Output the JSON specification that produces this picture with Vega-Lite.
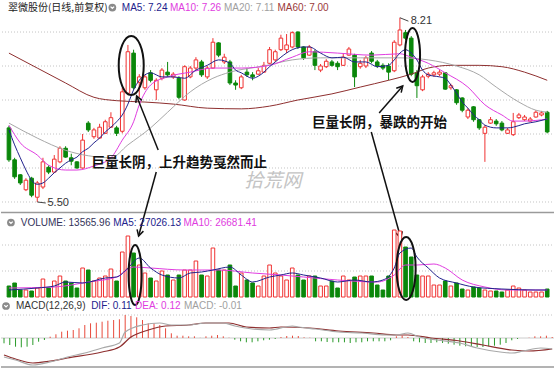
{
"$schema":"https://vega.github.io/schema/vega-lite/v6.json",
"padding":0,"spacing":0,"bounds":"flush","background":"white",
"config":{"view":{"stroke":null},"axis":{"disable":true},"legend":{"disable":true}},
"datasets":{
"k":[
{"i":0,"o":6.59,"h":6.62,"l":6.09,"c":6.12,"v":18700,"m":-0.053},
{"i":1,"o":6.12,"h":6.15,"l":5.84,"c":5.87,"v":23800,"m":-0.07},
{"i":2,"o":5.90,"h":5.91,"l":5.75,"c":5.78,"v":11900,"m":-0.087},
{"i":3,"o":5.68,"h":5.85,"l":5.66,"c":5.82,"v":11900,"m":-0.093},
{"i":4,"o":5.85,"h":5.87,"l":5.57,"c":5.60,"v":10200,"m":-0.087},
{"i":5,"o":5.57,"h":5.81,"l":5.50,"c":5.78,"v":15300,"m":-0.07},
{"i":6,"o":5.72,"h":6.15,"l":5.69,"c":6.09,"v":30600,"m":-0.037},
{"i":7,"o":6.01,"h":6.04,"l":5.91,"c":5.94,"v":15300,"m":-0.02},
{"i":8,"o":5.94,"h":6.19,"l":5.93,"c":6.13,"v":27200,"m":0.013},
{"i":9,"o":6.09,"h":6.32,"l":6.07,"c":6.29,"v":35700,"m":0.037},
{"i":10,"o":6.29,"h":6.32,"l":6.15,"c":6.16,"v":27200,"m":0.063},
{"i":11,"o":6.15,"h":6.21,"l":6.04,"c":6.10,"v":23800,"m":0.073},
{"i":12,"o":6.09,"h":6.10,"l":5.99,"c":6.00,"v":15300,"m":0.08},
{"i":13,"o":6.00,"h":6.50,"l":5.99,"c":6.41,"v":49300,"m":0.097},
{"i":14,"o":6.66,"h":6.69,"l":6.53,"c":6.56,"v":45900,"m":0.13},
{"i":15,"o":6.46,"h":6.59,"l":6.43,"c":6.56,"v":27200,"m":0.147},
{"i":16,"o":6.44,"h":6.65,"l":6.43,"c":6.60,"v":32300,"m":0.153},
{"i":17,"o":6.51,"h":6.71,"l":6.50,"c":6.68,"v":35700,"m":0.163},
{"i":18,"o":6.60,"h":6.82,"l":6.59,"c":6.74,"v":47600,"m":0.173},
{"i":19,"o":6.59,"h":6.62,"l":6.47,"c":6.51,"v":27200,"m":0.18},
{"i":20,"o":6.54,"h":7.18,"l":6.51,"c":7.12,"v":76500,"m":0.187},
{"i":21,"o":7.10,"h":7.81,"l":7.07,"c":7.71,"v":103700,"m":0.23},
{"i":22,"o":7.69,"h":7.74,"l":7.15,"c":7.18,"v":74800,"m":0.22},
{"i":23,"o":7.26,"h":7.38,"l":7.04,"c":7.34,"v":54400,"m":0.207},
{"i":24,"o":7.18,"h":7.37,"l":7.15,"c":7.34,"v":40800,"m":0.18},
{"i":25,"o":7.40,"h":7.44,"l":7.26,"c":7.29,"v":32300,"m":0.147},
{"i":26,"o":7.15,"h":7.32,"l":7.00,"c":7.29,"v":27200,"m":0.147},
{"i":27,"o":7.32,"h":7.47,"l":7.29,"c":7.44,"v":44200,"m":0.13},
{"i":28,"o":7.41,"h":7.56,"l":7.34,"c":7.37,"v":37400,"m":0.097},
{"i":29,"o":7.34,"h":7.41,"l":7.31,"c":7.38,"v":28900,"m":0.047},
{"i":30,"o":7.32,"h":7.35,"l":7.01,"c":7.04,"v":37400,"m":0.023},
{"i":31,"o":7.00,"h":7.51,"l":6.99,"c":7.49,"v":45900,"m":0.023},
{"i":32,"o":7.34,"h":7.50,"l":7.32,"c":7.47,"v":45900,"m":0.017},
{"i":33,"o":7.47,"h":7.63,"l":7.44,"c":7.59,"v":61200,"m":0.017},
{"i":34,"o":7.56,"h":7.59,"l":7.34,"c":7.37,"v":37400,"m":0.002},
{"i":35,"o":7.34,"h":7.50,"l":7.31,"c":7.47,"v":35700,"m":0.017},
{"i":36,"o":7.47,"h":7.91,"l":7.46,"c":7.85,"v":83300,"m":0.023},
{"i":37,"o":7.84,"h":7.85,"l":7.63,"c":7.66,"v":45900,"m":0.03},
{"i":38,"o":7.56,"h":7.68,"l":7.53,"c":7.63,"v":45900,"m":0.017},
{"i":39,"o":7.56,"h":7.59,"l":7.22,"c":7.25,"v":54400,"m":0.003},
{"i":40,"o":7.25,"h":7.29,"l":7.15,"c":7.22,"v":18700,"m":-0.017},
{"i":41,"o":7.18,"h":7.37,"l":7.16,"c":7.34,"v":40800,"m":-0.033},
{"i":42,"o":7.41,"h":7.47,"l":7.34,"c":7.37,"v":28900,"m":-0.043},
{"i":43,"o":7.37,"h":7.41,"l":7.29,"c":7.34,"v":23800,"m":-0.043},
{"i":44,"o":7.38,"h":7.47,"l":7.37,"c":7.43,"v":18700,"m":-0.033},
{"i":45,"o":7.41,"h":7.56,"l":7.40,"c":7.51,"v":35700,"m":-0.023},
{"i":46,"o":7.54,"h":7.78,"l":7.53,"c":7.74,"v":54400,"m":-0.017},
{"i":47,"o":7.59,"h":7.74,"l":7.56,"c":7.71,"v":40800,"m":-0.01},
{"i":48,"o":7.74,"h":7.96,"l":7.72,"c":7.91,"v":35700,"m":0.01},
{"i":49,"o":7.74,"h":7.97,"l":7.69,"c":7.81,"v":28900,"m":0.02},
{"i":50,"o":7.78,"h":8.01,"l":7.76,"c":7.99,"v":49300,"m":0.023},
{"i":51,"o":8.00,"h":8.01,"l":7.75,"c":7.78,"v":37400,"m":0.02},
{"i":52,"o":7.78,"h":7.79,"l":7.59,"c":7.62,"v":28900,"m":0.007},
{"i":53,"o":7.66,"h":7.81,"l":7.65,"c":7.78,"v":35700,"m":0.003},
{"i":54,"o":7.71,"h":7.74,"l":7.44,"c":7.51,"v":35700,"m":-0.033},
{"i":55,"o":7.44,"h":7.53,"l":7.41,"c":7.50,"v":18700,"m":-0.033},
{"i":56,"o":7.49,"h":7.60,"l":7.47,"c":7.57,"v":18700,"m":-0.04},
{"i":57,"o":7.56,"h":7.59,"l":7.49,"c":7.51,"v":27200,"m":-0.043},
{"i":58,"o":7.54,"h":7.57,"l":7.44,"c":7.49,"v":15300,"m":-0.043},
{"i":59,"o":7.51,"h":7.68,"l":7.50,"c":7.63,"v":35700,"m":-0.043},
{"i":60,"o":7.66,"h":7.78,"l":7.65,"c":7.75,"v":28900,"m":-0.05},
{"i":61,"o":7.66,"h":7.68,"l":7.19,"c":7.34,"v":34000,"m":-0.043},
{"i":62,"o":7.49,"h":7.59,"l":7.46,"c":7.54,"v":35700,"m":-0.043},
{"i":63,"o":7.50,"h":7.65,"l":7.47,"c":7.62,"v":35700,"m":-0.033},
{"i":64,"o":7.69,"h":7.72,"l":7.54,"c":7.57,"v":35700,"m":-0.033},
{"i":65,"o":7.56,"h":7.59,"l":7.47,"c":7.50,"v":20400,"m":-0.033},
{"i":66,"o":7.51,"h":7.54,"l":7.44,"c":7.47,"v":11900,"m":-0.033},
{"i":67,"o":7.50,"h":7.54,"l":7.29,"c":7.41,"v":35700,"m":-0.023},
{"i":68,"o":7.43,"h":7.88,"l":7.41,"c":7.85,"v":113900,"m":0.017},
{"i":69,"o":7.81,"h":8.21,"l":7.79,"c":8.03,"v":112200,"m":0.023},
{"i":70,"o":7.99,"h":8.03,"l":7.88,"c":7.91,"v":85000,"m":0.01},
{"i":71,"o":7.91,"h":7.94,"l":7.35,"c":7.38,"v":68000,"m":-0.033},
{"i":72,"o":7.40,"h":7.44,"l":7.03,"c":7.21,"v":37400,"m":-0.043},
{"i":73,"o":7.15,"h":7.37,"l":7.13,"c":7.34,"v":35700,"m":-0.05},
{"i":74,"o":7.35,"h":7.41,"l":7.32,"c":7.38,"v":35700,"m":-0.05},
{"i":75,"o":7.37,"h":7.43,"l":7.34,"c":7.40,"v":20400,"m":-0.043},
{"i":76,"o":7.38,"h":7.44,"l":7.35,"c":7.41,"v":20400,"m":-0.05},
{"i":77,"o":7.40,"h":7.41,"l":7.15,"c":7.16,"v":27200,"m":-0.057},
{"i":78,"o":7.18,"h":7.24,"l":7.15,"c":7.21,"v":18700,"m":-0.067},
{"i":79,"o":7.15,"h":7.16,"l":6.93,"c":6.96,"v":23800,"m":-0.077},
{"i":80,"o":7.03,"h":7.04,"l":6.82,"c":6.85,"v":13600,"m":-0.083},
{"i":81,"o":6.75,"h":6.88,"l":6.72,"c":6.85,"v":11900,"m":-0.09},
{"i":82,"o":6.90,"h":6.91,"l":6.68,"c":6.71,"v":17000,"m":-0.09},
{"i":83,"o":6.71,"h":6.72,"l":6.56,"c":6.59,"v":15300,"m":-0.09},
{"i":84,"o":6.51,"h":6.63,"l":6.09,"c":6.60,"v":11900,"m":-0.083},
{"i":85,"o":6.66,"h":6.75,"l":6.65,"c":6.71,"v":10200,"m":-0.077},
{"i":86,"o":6.69,"h":6.72,"l":6.62,"c":6.65,"v":10200,"m":-0.067},
{"i":87,"o":6.66,"h":6.69,"l":6.54,"c":6.56,"v":8500,"m":-0.05},
{"i":88,"o":6.51,"h":6.59,"l":6.50,"c":6.56,"v":11900,"m":-0.023},
{"i":89,"o":6.49,"h":6.81,"l":6.47,"c":6.68,"v":18700,"m":-0.01},
{"i":90,"o":6.74,"h":6.81,"l":6.72,"c":6.78,"v":15300,"m":0.0},
{"i":91,"o":6.71,"h":6.78,"l":6.69,"c":6.75,"v":11900,"m":0.003},
{"i":92,"o":6.69,"h":6.75,"l":6.68,"c":6.72,"v":8500,"m":0.017},
{"i":93,"o":6.75,"h":6.85,"l":6.74,"c":6.82,"v":8500,"m":0.017},
{"i":94,"o":6.78,"h":6.84,"l":6.76,"c":6.81,"v":8500,"m":0.023},
{"i":95,"o":6.82,"h":6.84,"l":6.51,"c":6.53,"v":13566,"m":0.01}
],
"ma":[
{"s":"MA60","i":0,"v":7.69},{"s":"MA60","i":5,"v":7.47},{"s":"MA60","i":10,"v":7.25},{"s":"MA60","i":15,"v":7.04},{"s":"MA60","i":19,"v":6.99},{"s":"MA60","i":24,"v":6.97},{"s":"MA60","i":29,"v":6.94},{"s":"MA60","i":35,"v":6.88},{"s":"MA60","i":41,"v":6.87},{"s":"MA60","i":46,"v":6.91},{"s":"MA60","i":51,"v":7.00},{"s":"MA60","i":57,"v":7.09},{"s":"MA60","i":62,"v":7.19},{"s":"MA60","i":67,"v":7.29},{"s":"MA60","i":71,"v":7.38},{"s":"MA60","i":74,"v":7.47},{"s":"MA60","i":78,"v":7.51},{"s":"MA60","i":83,"v":7.51},{"s":"MA60","i":87,"v":7.49},{"s":"MA60","i":91,"v":7.41},{"s":"MA60","i":95,"v":7.29},
{"s":"MA20","i":0,"v":6.66},{"s":"MA20","i":5,"v":6.44},{"s":"MA20","i":10,"v":6.26},{"s":"MA20","i":14,"v":6.18},{"s":"MA20","i":18,"v":6.15},{"s":"MA20","i":21,"v":6.34},{"s":"MA20","i":25,"v":6.59},{"s":"MA20","i":28,"v":6.82},{"s":"MA20","i":32,"v":7.12},{"s":"MA20","i":36,"v":7.32},{"s":"MA20","i":39,"v":7.41},{"s":"MA20","i":45,"v":7.50},{"s":"MA20","i":50,"v":7.59},{"s":"MA20","i":55,"v":7.62},{"s":"MA20","i":62,"v":7.62},{"s":"MA20","i":69,"v":7.62},{"s":"MA20","i":74,"v":7.59},{"s":"MA20","i":79,"v":7.50},{"s":"MA20","i":83,"v":7.37},{"s":"MA20","i":86,"v":7.19},{"s":"MA20","i":90,"v":6.97},{"s":"MA20","i":93,"v":6.85},{"s":"MA20","i":95,"v":6.82},
{"s":"MA10","i":0,"v":6.63},{"s":"MA10","i":2,"v":6.37},{"s":"MA10","i":5,"v":6.19},{"s":"MA10","i":7,"v":6.04},{"s":"MA10","i":10,"v":5.97},{"s":"MA10","i":12,"v":5.97},{"s":"MA10","i":15,"v":6.03},{"s":"MA10","i":18,"v":6.15},{"s":"MA10","i":20,"v":6.41},{"s":"MA10","i":22,"v":6.68},{"s":"MA10","i":23,"v":6.93},{"s":"MA10","i":25,"v":7.22},{"s":"MA10","i":28,"v":7.34},{"s":"MA10","i":32,"v":7.41},{"s":"MA10","i":36,"v":7.47},{"s":"MA10","i":41,"v":7.47},{"s":"MA10","i":46,"v":7.51},{"s":"MA10","i":50,"v":7.63},{"s":"MA10","i":53,"v":7.71},{"s":"MA10","i":58,"v":7.69},{"s":"MA10","i":64,"v":7.66},{"s":"MA10","i":69,"v":7.68},{"s":"MA10","i":71,"v":7.63},{"s":"MA10","i":74,"v":7.54},{"s":"MA10","i":77,"v":7.40},{"s":"MA10","i":81,"v":7.19},{"s":"MA10","i":84,"v":6.93},{"s":"MA10","i":87,"v":6.78},{"s":"MA10","i":89,"v":6.69},{"s":"MA10","i":91,"v":6.69},{"s":"MA10","i":95,"v":6.72},
{"s":"MA5","i":0,"v":6.56},{"s":"MA5","i":1,"v":6.34},{"s":"MA5","i":2,"v":6.15},{"s":"MA5","i":3,"v":5.97},{"s":"MA5","i":4,"v":5.82},{"s":"MA5","i":5,"v":5.76},{"s":"MA5","i":6,"v":5.78},{"s":"MA5","i":7,"v":5.85},{"s":"MA5","i":8,"v":5.93},{"s":"MA5","i":9,"v":6.00},{"s":"MA5","i":10,"v":6.07},{"s":"MA5","i":11,"v":6.12},{"s":"MA5","i":12,"v":6.16},{"s":"MA5","i":13,"v":6.24},{"s":"MA5","i":14,"v":6.29},{"s":"MA5","i":15,"v":6.37},{"s":"MA5","i":16,"v":6.44},{"s":"MA5","i":17,"v":6.53},{"s":"MA5","i":18,"v":6.60},{"s":"MA5","i":19,"v":6.68},{"s":"MA5","i":20,"v":6.78},{"s":"MA5","i":21,"v":6.94},{"s":"MA5","i":22,"v":7.15},{"s":"MA5","i":23,"v":7.29},{"s":"MA5","i":24,"v":7.37},{"s":"MA5","i":25,"v":7.40},{"s":"MA5","i":27,"v":7.34},{"s":"MA5","i":29,"v":7.34},{"s":"MA5","i":31,"v":7.32},{"s":"MA5","i":33,"v":7.44},{"s":"MA5","i":35,"v":7.51},{"s":"MA5","i":37,"v":7.59},{"s":"MA5","i":39,"v":7.54},{"s":"MA5","i":40,"v":7.44},{"s":"MA5","i":41,"v":7.40},{"s":"MA5","i":43,"v":7.32},{"s":"MA5","i":44,"v":7.35},{"s":"MA5","i":45,"v":7.41},{"s":"MA5","i":46,"v":7.49},{"s":"MA5","i":47,"v":7.56},{"s":"MA5","i":48,"v":7.63},{"s":"MA5","i":50,"v":7.74},{"s":"MA5","i":52,"v":7.78},{"s":"MA5","i":53,"v":7.78},{"s":"MA5","i":55,"v":7.69},{"s":"MA5","i":57,"v":7.62},{"s":"MA5","i":59,"v":7.63},{"s":"MA5","i":61,"v":7.56},{"s":"MA5","i":63,"v":7.56},{"s":"MA5","i":65,"v":7.49},{"s":"MA5","i":67,"v":7.51},{"s":"MA5","i":68,"v":7.59},{"s":"MA5","i":69,"v":7.69},{"s":"MA5","i":70,"v":7.74},{"s":"MA5","i":71,"v":7.69},{"s":"MA5","i":72,"v":7.59},{"s":"MA5","i":73,"v":7.44},{"s":"MA5","i":74,"v":7.37},{"s":"MA5","i":76,"v":7.34},{"s":"MA5","i":77,"v":7.32},{"s":"MA5","i":78,"v":7.22},{"s":"MA5","i":79,"v":7.10},{"s":"MA5","i":80,"v":6.97},{"s":"MA5","i":81,"v":6.88},{"s":"MA5","i":82,"v":6.78},{"s":"MA5","i":83,"v":6.71},{"s":"MA5","i":84,"v":6.63},{"s":"MA5","i":86,"v":6.59},{"s":"MA5","i":88,"v":6.59},{"s":"MA5","i":89,"v":6.60},{"s":"MA5","i":91,"v":6.65},{"s":"MA5","i":93,"v":6.68},{"s":"MA5","i":95,"v":6.72}
],
"vma":[
{"s":"MA10","i":0,"v":15300},{"s":"MA10","i":8,"v":17000},{"s":"MA10","i":14,"v":25500},{"s":"MA10","i":19,"v":34000},{"s":"MA10","i":22,"v":51000},{"s":"MA10","i":25,"v":49300},{"s":"MA10","i":31,"v":45900},{"s":"MA10","i":37,"v":45900},{"s":"MA10","i":43,"v":40800},{"s":"MA10","i":48,"v":37400},{"s":"MA10","i":52,"v":34000},{"s":"MA10","i":58,"v":28900},{"s":"MA10","i":65,"v":25500},{"s":"MA10","i":68,"v":37400},{"s":"MA10","i":70,"v":54400},{"s":"MA10","i":72,"v":54400},{"s":"MA10","i":75,"v":56100},{"s":"MA10","i":77,"v":49300},{"s":"MA10","i":80,"v":28900},{"s":"MA10","i":84,"v":17000},{"s":"MA10","i":88,"v":11900},{"s":"MA10","i":95,"v":11900},
{"s":"MA5","i":0,"v":11900},{"s":"MA5","i":5,"v":15300},{"s":"MA5","i":8,"v":18700},{"s":"MA5","i":10,"v":25500},{"s":"MA5","i":13,"v":23800},{"s":"MA5","i":17,"v":32300},{"s":"MA5","i":19,"v":34000},{"s":"MA5","i":21,"v":49300},{"s":"MA5","i":23,"v":66300},{"s":"MA5","i":25,"v":49300},{"s":"MA5","i":27,"v":37400},{"s":"MA5","i":30,"v":32300},{"s":"MA5","i":32,"v":40800},{"s":"MA5","i":34,"v":42500},{"s":"MA5","i":36,"v":45900},{"s":"MA5","i":39,"v":51000},{"s":"MA5","i":41,"v":37400},{"s":"MA5","i":43,"v":25500},{"s":"MA5","i":46,"v":34000},{"s":"MA5","i":48,"v":37400},{"s":"MA5","i":50,"v":40800},{"s":"MA5","i":52,"v":37400},{"s":"MA5","i":55,"v":32300},{"s":"MA5","i":58,"v":25500},{"s":"MA5","i":61,"v":28900},{"s":"MA5","i":64,"v":25500},{"s":"MA5","i":66,"v":28900},{"s":"MA5","i":68,"v":49300},{"s":"MA5","i":69,"v":74800},{"s":"MA5","i":71,"v":83300},{"s":"MA5","i":72,"v":68000},{"s":"MA5","i":74,"v":49300},{"s":"MA5","i":76,"v":32300},{"s":"MA5","i":79,"v":23800},{"s":"MA5","i":82,"v":17000},{"s":"MA5","i":87,"v":13600},{"s":"MA5","i":93,"v":11900},{"s":"MA5","i":95,"v":11900}
],
"dd":[
{"s":"DEA","i":0,"v":-0.17},{"s":"DEA","i":2,"v":-0.21},{"s":"DEA","i":5,"v":-0.25},{"s":"DEA","i":8,"v":-0.23},{"s":"DEA","i":11,"v":-0.20},{"s":"DEA","i":17,"v":-0.14},{"s":"DEA","i":20,"v":-0.09},{"s":"DEA","i":22,"v":0.01},{"s":"DEA","i":25,"v":0.08},{"s":"DEA","i":28,"v":0.12},{"s":"DEA","i":32,"v":0.13},{"s":"DEA","i":35,"v":0.15},{"s":"DEA","i":39,"v":0.15},{"s":"DEA","i":42,"v":0.11},{"s":"DEA","i":46,"v":0.10},{"s":"DEA","i":48,"v":0.11},{"s":"DEA","i":53,"v":0.10},{"s":"DEA","i":58,"v":0.07},{"s":"DEA","i":64,"v":0.05},{"s":"DEA","i":68,"v":0.03},{"s":"DEA","i":70,"v":0.03},{"s":"DEA","i":74,"v":0.00},{"s":"DEA","i":79,"v":-0.03},{"s":"DEA","i":83,"v":-0.07},{"s":"DEA","i":88,"v":-0.12},{"s":"DEA","i":91,"v":-0.13},{"s":"DEA","i":95,"v":-0.11},
{"s":"DIF","i":0,"v":-0.19},{"s":"DIF","i":2,"v":-0.22},{"s":"DIF","i":5,"v":-0.27},{"s":"DIF","i":8,"v":-0.24},{"s":"DIF","i":11,"v":-0.19},{"s":"DIF","i":14,"v":-0.15},{"s":"DIF","i":17,"v":-0.10},{"s":"DIF","i":20,"v":-0.05},{"s":"DIF","i":21,"v":0.06},{"s":"DIF","i":24,"v":0.13},{"s":"DIF","i":27,"v":0.15},{"s":"DIF","i":29,"v":0.13},{"s":"DIF","i":32,"v":0.13},{"s":"DIF","i":35,"v":0.15},{"s":"DIF","i":38,"v":0.15},{"s":"DIF","i":40,"v":0.12},{"s":"DIF","i":43,"v":0.09},{"s":"DIF","i":46,"v":0.08},{"s":"DIF","i":50,"v":0.12},{"s":"DIF","i":51,"v":0.11},{"s":"DIF","i":54,"v":0.09},{"s":"DIF","i":58,"v":0.06},{"s":"DIF","i":62,"v":0.05},{"s":"DIF","i":66,"v":0.03},{"s":"DIF","i":68,"v":0.03},{"s":"DIF","i":70,"v":0.05},{"s":"DIF","i":72,"v":0.01},{"s":"DIF","i":75,"v":-0.02},{"s":"DIF","i":79,"v":-0.05},{"s":"DIF","i":82,"v":-0.10},{"s":"DIF","i":86,"v":-0.14},{"s":"DIF","i":88,"v":-0.15},{"s":"DIF","i":90,"v":-0.13},{"s":"DIF","i":93,"v":-0.10},{"s":"DIF","i":95,"v":-0.11}
]
},
"vconcat":[
{
"width":554,"height":213,
"layer":[
{"data":{"values":[{"g":5.5},{"g":6.0},{"g":6.5},{"g":7.0},{"g":7.5},{"g":8.0}]},
 "mark":{"type":"rule","color":"#c4c4c4","strokeDash":[1,2],"strokeWidth":1},
 "encoding":{"y":{"field":"g","type":"quantitative","scale":{"domain":[5.338,8.471],"nice":false,"zero":false}}}},
{"data":{"values":[{}]},
 "mark":{"type":"text","text":"拾荒网","font":"Noto Sans CJK SC","fontSize":19,"fontStyle":"italic","color":"#c4c4c4","align":"center","baseline":"middle"},
 "encoding":{"x":{"datum":46.6,"scale":{"domain":[-0.52,95.49],"nice":false,"zero":false}},"y":{"datum":5.81}}},
{"data":{"values":[{}]},
 "mark":{"type":"rule","color":"#9a9a9a","strokeWidth":1.5},
 "encoding":{"y":{"datum":5.345}}},
{"data":{"name":"k"},
 "mark":{"type":"rule","strokeWidth":1},
 "encoding":{"x":{"field":"i","type":"quantitative"},"y":{"field":"l","type":"quantitative"},"y2":{"field":"h"},
  "color":{"condition":{"test":"datum.c >= datum.o","value":"#f03232"},"value":"#0a870a"}}},
{"data":{"name":"k"},
 "mark":{"type":"bar","width":3.6,"strokeWidth":1},
 "encoding":{"x":{"field":"i","type":"quantitative"},"y":{"field":"o","type":"quantitative"},"y2":{"field":"c"},
  "fill":{"condition":{"test":"datum.c >= datum.o","value":"#ffffff"},"value":"#0a870a"},
  "stroke":{"condition":{"test":"datum.c >= datum.o","value":"#f03232"},"value":"#0a870a"}}},
{"data":{"name":"ma"},
 "mark":{"type":"line","strokeWidth":1,"interpolate":"monotone"},
 "encoding":{"x":{"field":"i","type":"quantitative"},"y":{"field":"v","type":"quantitative"},"detail":{"field":"s"},
  "color":{"field":"s","type":"nominal","scale":{"domain":["MA60","MA20","MA10","MA5"],"range":["#8e2f2f","#a8a8a8","#e03ce0","#22228c"]}}}},
{"data":{"values":[{}]},"mark":{"type":"rule","color":"#444","strokeWidth":1},
 "encoding":{"x":{"datum":69},"y":{"datum":8.21},"x2":{"datum":70.5},"y2":{"datum":8.16}}},
{"data":{"values":[{}]},"mark":{"type":"text","text":"8.21","font":"Liberation Sans","fontSize":11,"color":"#333","align":"left","baseline":"middle"},
 "encoding":{"x":{"datum":70.9},"y":{"datum":8.16}}},
{"data":{"values":[{}]},"mark":{"type":"rule","color":"#444","strokeWidth":1},
 "encoding":{"x":{"datum":5},"y":{"datum":5.50},"x2":{"datum":6.5},"y2":{"datum":5.485}}},
{"data":{"values":[{}]},"mark":{"type":"text","text":"5.50","font":"Liberation Sans","fontSize":11,"color":"#333","align":"left","baseline":"middle"},
 "encoding":{"x":{"datum":6.8},"y":{"datum":5.485}}},
{"data":{"values":[{}]},"mark":{"type":"text","text":"翠微股份(日线,前复权)","font":"Noto Sans CJK SC","fontSize":10,"color":"#222","align":"left","baseline":"middle"},
 "encoding":{"x":{"datum":-0.17},"y":{"datum":8.35}}},
{"data":{"values":[{}]},"mark":{"type":"point","shape":"circle","filled":true,"size":60,"color":"#8a8a8a","opacity":1},
 "encoding":{"x":{"datum":18.25},"y":{"datum":8.36}}},
{"data":{"values":[{}]},"mark":{"type":"point","shape":"M-0.5,-0.25L0,0.25L0.5,-0.25","filled":false,"size":50,"stroke":"white","strokeWidth":1.3,"opacity":1},
 "encoding":{"x":{"datum":18.25},"y":{"datum":8.36}}},
{"data":{"values":[{}]},"mark":{"type":"text","text":"MA5: 7.24","font":"Liberation Sans","fontSize":10,"color":"#22228c","align":"left","baseline":"middle"},
 "encoding":{"x":{"datum":19.93},"y":{"datum":8.35}}},
{"data":{"values":[{}]},"mark":{"type":"text","text":"MA10: 7.26","font":"Liberation Sans","fontSize":10,"color":"#e03ce0","align":"left","baseline":"middle"},
 "encoding":{"x":{"datum":28.42},"y":{"datum":8.35}}},
{"data":{"values":[{}]},"mark":{"type":"text","text":"MA20: 7.11","font":"Liberation Sans","fontSize":10,"color":"#a0a0a0","align":"left","baseline":"middle"},
 "encoding":{"x":{"datum":37.95},"y":{"datum":8.35}}},
{"data":{"values":[{}]},"mark":{"type":"text","text":"MA60: 7.00","font":"Liberation Sans","fontSize":10,"color":"#9b3a3a","align":"left","baseline":"middle"},
 "encoding":{"x":{"datum":47.4},"y":{"datum":8.35}}},
{"data":{"values":[{}]},"mark":{"type":"point","shape":"M0,-1A0.424,1 0 1,1 0,1A0.424,1 0 1,1 0,-1Z","size":3481,"filled":false,"stroke":"#111","strokeWidth":2,"opacity":1},
 "encoding":{"x":{"datum":21.58},"y":{"datum":7.507}}},
{"data":{"values":[{}]},"mark":{"type":"point","shape":"M0,-1A0.278,1 0 1,1 0,1A0.278,1 0 1,1 0,-1Z","size":2916,"filled":false,"stroke":"#111","strokeWidth":2,"opacity":1},
 "encoding":{"x":{"datum":71.23},"y":{"datum":7.662}}},
{"data":{"values":[{}]},"mark":{"type":"rule","color":"#111","strokeWidth":1.5},
 "encoding":{"x":{"datum":26.34},"y":{"datum":6.265},"x2":{"datum":22.53},"y2":{"datum":7.059}}},
{"data":{"values":[{}]},"mark":{"type":"point","shape":"M-0.55,1L0,0L0.55,1","size":144,"filled":false,"stroke":"#111","strokeWidth":1.5,"opacity":1,"angle":338},
 "encoding":{"x":{"datum":22.53},"y":{"datum":7.059}}},
{"data":{"values":[{}]},"mark":{"type":"rule","color":"#111","strokeWidth":1.5},
 "encoding":{"x":{"datum":26.0},"y":{"datum":5.941},"x2":{"datum":22.88},"y2":{"datum":5.0}}},
{"data":{"values":[{}]},"mark":{"type":"point","shape":"M-0.55,1L0,0L0.55,1","size":144,"filled":false,"stroke":"#111","strokeWidth":1.5,"opacity":1,"angle":196},
 "encoding":{"x":{"datum":22.88},"y":{"datum":5.0}}},
{"data":{"values":[{}]},"mark":{"type":"rule","color":"#111","strokeWidth":1.5},
 "encoding":{"x":{"datum":65.34},"y":{"datum":6.809},"x2":{"datum":69.5},"y2":{"datum":7.206}}},
{"data":{"values":[{}]},"mark":{"type":"point","shape":"M-0.55,1L0,0L0.55,1","size":144,"filled":false,"stroke":"#111","strokeWidth":1.5,"opacity":1,"angle":42},
 "encoding":{"x":{"datum":69.5},"y":{"datum":7.206}}},
{"data":{"values":[{}]},"mark":{"type":"rule","color":"#111","strokeWidth":1.5},
 "encoding":{"x":{"datum":63.95},"y":{"datum":6.529},"x2":{"datum":69.15},"y2":{"datum":4.971}}},
{"data":{"values":[{}]},"mark":{"type":"point","shape":"M-0.55,1L0,0L0.55,1","size":144,"filled":false,"stroke":"#111","strokeWidth":1.5,"opacity":1,"angle":164},
 "encoding":{"x":{"datum":69.15},"y":{"datum":4.971}}},
{"data":{"values":[{}]},"mark":{"type":"text","text":"巨量长阴，上升趋势戛然而止","font":"Noto Sans CJK SC","fontSize":13.5,"fontWeight":"bold","color":"#111","align":"center","baseline":"middle"},
 "encoding":{"x":{"datum":30.07},"y":{"datum":6.074}}},
{"data":{"values":[{}]},"mark":{"type":"text","text":"巨量长阴，暴跌的开始","font":"Noto Sans CJK SC","fontSize":13.5,"fontWeight":"bold","color":"#111","align":"center","baseline":"middle"},
 "encoding":{"x":{"datum":65.42},"y":{"datum":6.662}}}
]
},
{
"width":554,"height":85,
"layer":[
{"data":{"values":[{"g":44200},{"g":88400}]},
 "mark":{"type":"rule","color":"#c4c4c4","strokeDash":[1,2],"strokeWidth":1},
 "encoding":{"y":{"field":"g","type":"quantitative","scale":{"domain":[-1700,142800],"nice":false,"zero":false}}}},
{"data":{"name":"k"},
 "mark":{"type":"bar","width":3.6,"strokeWidth":1},
 "encoding":{"x":{"field":"i","type":"quantitative","scale":{"domain":[-0.52,95.49],"nice":false,"zero":false}},"y":{"field":"v","type":"quantitative"},"y2":{"datum":0},
  "fill":{"condition":{"test":"datum.c >= datum.o","value":"#ffffff"},"value":"#0a870a"},
  "stroke":{"condition":{"test":"datum.c >= datum.o","value":"#f03232"},"value":"#0a870a"}}},
{"data":{"name":"vma"},
 "mark":{"type":"line","strokeWidth":1,"interpolate":"monotone"},
 "encoding":{"x":{"field":"i","type":"quantitative"},"y":{"field":"v","type":"quantitative"},"detail":{"field":"s"},
  "color":{"field":"s","type":"nominal","scale":{"domain":["MA10","MA5"],"range":["#e03ce0","#22228c"]}}}},
{"data":{"values":[{}]},"mark":{"type":"point","shape":"circle","filled":true,"size":60,"color":"#8a8a8a","opacity":1},
 "encoding":{"x":{"datum":0.35},"y":{"datum":126650}}},
{"data":{"values":[{}]},"mark":{"type":"point","shape":"M-0.5,-0.25L0,0.25L0.5,-0.25","filled":false,"size":50,"stroke":"white","strokeWidth":1.3,"opacity":1},
 "encoding":{"x":{"datum":0.35},"y":{"datum":126650}}},
{"data":{"values":[{}]},"mark":{"type":"text","text":"VOLUME: 13565.96","font":"Liberation Sans","fontSize":10,"color":"#33335a","align":"left","baseline":"middle"},
 "encoding":{"x":{"datum":2.08},"y":{"datum":126650}}},
{"data":{"values":[{}]},"mark":{"type":"text","text":"MA5: 27026.13","font":"Liberation Sans","fontSize":10,"color":"#22228c","align":"left","baseline":"middle"},
 "encoding":{"x":{"datum":18.4},"y":{"datum":126650}}},
{"data":{"values":[{}]},"mark":{"type":"text","text":"MA10: 26681.41","font":"Liberation Sans","fontSize":10,"color":"#e03ce0","align":"left","baseline":"middle"},
 "encoding":{"x":{"datum":30.8},"y":{"datum":126650}}},
{"data":{"values":[{}]},"mark":{"type":"point","shape":"M0,-1A0.217,1 0 1,1 0,1A0.217,1 0 1,1 0,-1Z","size":3600,"filled":false,"stroke":"#111","strokeWidth":2,"opacity":1},
 "encoding":{"x":{"datum":22.27},"y":{"datum":37400}}},
{"data":{"values":[{}]},"mark":{"type":"point","shape":"M0,-1A0.302,1 0 1,1 0,1A0.302,1 0 1,1 0,-1Z","size":3969,"filled":false,"stroke":"#111","strokeWidth":2,"opacity":1},
 "encoding":{"x":{"datum":70.1},"y":{"datum":48450}}}
]
},
{
"width":554,"height":70,
"layer":[
{"data":{"values":[{"g":0.23}]},
 "mark":{"type":"rule","color":"#c4c4c4","strokeDash":[1,2],"strokeWidth":1},
 "encoding":{"y":{"field":"g","type":"quantitative","scale":{"domain":[-0.30,0.40],"nice":false,"zero":false}}}},
{"data":{"values":[{"g":0}]},
 "mark":{"type":"rule","color":"#cccccc","strokeWidth":1},
 "encoding":{"y":{"field":"g","type":"quantitative"}}},
{"data":{"name":"k"},
 "mark":{"type":"rule","strokeWidth":1},
 "encoding":{"x":{"field":"i","type":"quantitative","scale":{"domain":[-0.52,95.49],"nice":false,"zero":false}},"y":{"field":"m","type":"quantitative"},"y2":{"datum":0},
  "color":{"condition":{"test":"datum.m >= 0","value":"#e84a3c"},"value":"#2a9a2a"}}},
{"data":{"name":"dd"},
 "mark":{"type":"line","strokeWidth":1.2,"interpolate":"monotone"},
 "encoding":{"x":{"field":"i","type":"quantitative"},"y":{"field":"v","type":"quantitative"},"detail":{"field":"s"},
  "color":{"field":"s","type":"nominal","scale":{"domain":["DEA","DIF"],"range":["#e03ce0","#22228c"]}}}},
{"data":{"values":[{}]},"mark":{"type":"rule","color":"#9a9a9a","strokeWidth":1.5},
 "encoding":{"y":{"datum":-0.29}}},
{"data":{"values":[{}]},"mark":{"type":"point","shape":"circle","filled":true,"size":60,"color":"#8a8a8a","opacity":1},
 "encoding":{"x":{"datum":0.35},"y":{"datum":0.32}}},
{"data":{"values":[{}]},"mark":{"type":"point","shape":"M-0.5,-0.25L0,0.25L0.5,-0.25","filled":false,"size":50,"stroke":"white","strokeWidth":1.3,"opacity":1},
 "encoding":{"x":{"datum":0.35},"y":{"datum":0.32}}},
{"data":{"values":[{}]},"mark":{"type":"text","text":"MACD(12,26,9)","font":"Liberation Sans","fontSize":10,"color":"#333","align":"left","baseline":"middle"},
 "encoding":{"x":{"datum":2.08},"y":{"datum":0.32}}},
{"data":{"values":[{}]},"mark":{"type":"text","text":"DIF: 0.11","font":"Liberation Sans","fontSize":10,"color":"#22228c","align":"left","baseline":"middle"},
 "encoding":{"x":{"datum":15.1},"y":{"datum":0.32}}},
{"data":{"values":[{}]},"mark":{"type":"text","text":"DEA: 0.12","font":"Liberation Sans","fontSize":10,"color":"#e03ce0","align":"left","baseline":"middle"},
 "encoding":{"x":{"datum":22.7},"y":{"datum":0.32}}},
{"data":{"values":[{}]},"mark":{"type":"text","text":"MACD: -0.01","font":"Liberation Sans","fontSize":10,"color":"#a0a0a0","align":"left","baseline":"middle"},
 "encoding":{"x":{"datum":31.2},"y":{"datum":0.32}}}
]
}
]
}
